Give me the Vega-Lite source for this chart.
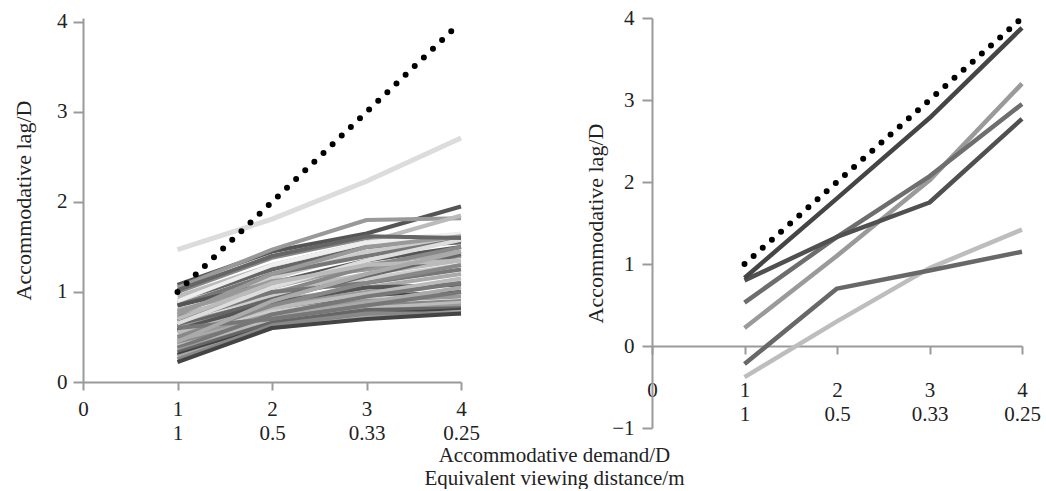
{
  "$schema": "https://vega.github.io/schema/vega-lite/v6.json",
  "background": "white",
  "padding": {"left": 12, "top": 6, "right": 2, "bottom": 0},
  "config": {
    "font": "Liberation Serif",
    "view": {"stroke": null},
    "axis": {
      "grid": false,
      "domainColor": "#9a9a9a",
      "tickColor": "#9a9a9a",
      "domainWidth": 2,
      "tickWidth": 2,
      "labelFont": "Liberation Serif",
      "labelFontSize": 21,
      "labelColor": "#222222",
      "titleFont": "Liberation Serif",
      "titleFontSize": 22,
      "titleFontWeight": "normal",
      "titleColor": "#222222"
    }
  },
  "title": {
    "text": ["Accommodative demand/D", "Equivalent viewing distance/m"],
    "orient": "bottom",
    "anchor": "middle",
    "font": "Liberation Serif",
    "fontSize": 21,
    "fontWeight": "normal",
    "color": "#222222",
    "lineHeight": 23,
    "offset": 2,
    "dx": 28
  },
  "datasets": {
    "leftLines": [
      {"s":"L1","x":1,"y":1.08},{"s":"L1","x":2,"y":1.45},{"s":"L1","x":3,"y":1.65},{"s":"L1","x":4,"y":1.95},
      {"s":"L2","x":1,"y":1.05},{"s":"L2","x":2,"y":1.47},{"s":"L2","x":3,"y":1.80},{"s":"L2","x":4,"y":1.82},
      {"s":"L3","x":1,"y":1.00},{"s":"L3","x":2,"y":1.38},{"s":"L3","x":3,"y":1.60},{"s":"L3","x":4,"y":1.62},
      {"s":"L4","x":1,"y":0.95},{"s":"L4","x":2,"y":1.30},{"s":"L4","x":3,"y":1.55},{"s":"L4","x":4,"y":1.85},
      {"s":"L5","x":1,"y":0.90},{"s":"L5","x":2,"y":1.25},{"s":"L5","x":3,"y":1.50},{"s":"L5","x":4,"y":1.55},
      {"s":"L6","x":1,"y":0.88},{"s":"L6","x":2,"y":1.15},{"s":"L6","x":3,"y":1.45},{"s":"L6","x":4,"y":1.60},
      {"s":"L7","x":1,"y":0.85},{"s":"L7","x":2,"y":1.20},{"s":"L7","x":3,"y":1.40},{"s":"L7","x":4,"y":1.58},
      {"s":"L8","x":1,"y":0.85},{"s":"L8","x":2,"y":1.10},{"s":"L8","x":3,"y":1.35},{"s":"L8","x":4,"y":1.50},
      {"s":"L9","x":1,"y":0.80},{"s":"L9","x":2,"y":1.05},{"s":"L9","x":3,"y":1.30},{"s":"L9","x":4,"y":1.45},
      {"s":"L10","x":1,"y":0.78},{"s":"L10","x":2,"y":1.12},{"s":"L10","x":3,"y":1.25},{"s":"L10","x":4,"y":1.40},
      {"s":"L11","x":1,"y":0.75},{"s":"L11","x":2,"y":1.00},{"s":"L11","x":3,"y":1.20},{"s":"L11","x":4,"y":1.35},
      {"s":"L12","x":1,"y":0.72},{"s":"L12","x":2,"y":0.98},{"s":"L12","x":3,"y":1.28},{"s":"L12","x":4,"y":1.50},
      {"s":"L13","x":1,"y":0.70},{"s":"L13","x":2,"y":0.95},{"s":"L13","x":3,"y":1.15},{"s":"L13","x":4,"y":1.30},
      {"s":"L14","x":1,"y":0.68},{"s":"L14","x":2,"y":1.00},{"s":"L14","x":3,"y":1.10},{"s":"L14","x":4,"y":1.25},
      {"s":"L15","x":1,"y":0.65},{"s":"L15","x":2,"y":0.90},{"s":"L15","x":3,"y":1.05},{"s":"L15","x":4,"y":1.20},
      {"s":"L16","x":1,"y":0.62},{"s":"L16","x":2,"y":0.92},{"s":"L16","x":3,"y":1.18},{"s":"L16","x":4,"y":1.42},
      {"s":"L17","x":1,"y":0.60},{"s":"L17","x":2,"y":0.85},{"s":"L17","x":3,"y":1.00},{"s":"L17","x":4,"y":1.10},
      {"s":"L18","x":1,"y":0.58},{"s":"L18","x":2,"y":0.88},{"s":"L18","x":3,"y":1.05},{"s":"L18","x":4,"y":1.08},
      {"s":"L19","x":1,"y":0.56},{"s":"L19","x":2,"y":0.80},{"s":"L19","x":3,"y":0.95},{"s":"L19","x":4,"y":1.00},
      {"s":"L20","x":1,"y":0.55},{"s":"L20","x":2,"y":0.82},{"s":"L20","x":3,"y":0.98},{"s":"L20","x":4,"y":1.15},
      {"s":"L21","x":1,"y":0.50},{"s":"L21","x":2,"y":0.78},{"s":"L21","x":3,"y":0.92},{"s":"L21","x":4,"y":0.98},
      {"s":"L22","x":1,"y":0.48},{"s":"L22","x":2,"y":0.75},{"s":"L22","x":3,"y":0.90},{"s":"L22","x":4,"y":0.95},
      {"s":"L23","x":1,"y":0.45},{"s":"L23","x":2,"y":0.72},{"s":"L23","x":3,"y":0.88},{"s":"L23","x":4,"y":1.05},
      {"s":"L24","x":1,"y":0.42},{"s":"L24","x":2,"y":0.70},{"s":"L24","x":3,"y":0.85},{"s":"L24","x":4,"y":0.90},
      {"s":"L25","x":1,"y":0.40},{"s":"L25","x":2,"y":0.68},{"s":"L25","x":3,"y":0.82},{"s":"L25","x":4,"y":0.88},
      {"s":"L26","x":1,"y":0.38},{"s":"L26","x":2,"y":0.75},{"s":"L26","x":3,"y":0.95},{"s":"L26","x":4,"y":1.10},
      {"s":"L27","x":1,"y":0.35},{"s":"L27","x":2,"y":0.65},{"s":"L27","x":3,"y":0.78},{"s":"L27","x":4,"y":0.85},
      {"s":"L28","x":1,"y":0.33},{"s":"L28","x":2,"y":0.66},{"s":"L28","x":3,"y":0.80},{"s":"L28","x":4,"y":0.82},
      {"s":"L29","x":1,"y":0.30},{"s":"L29","x":2,"y":0.62},{"s":"L29","x":3,"y":0.75},{"s":"L29","x":4,"y":0.80},
      {"s":"L30","x":1,"y":0.28},{"s":"L30","x":2,"y":0.60},{"s":"L30","x":3,"y":0.72},{"s":"L30","x":4,"y":0.78},
      {"s":"L31","x":1,"y":0.25},{"s":"L31","x":2,"y":0.63},{"s":"L31","x":3,"y":0.76},{"s":"L31","x":4,"y":0.76},
      {"s":"L32","x":1,"y":0.22},{"s":"L32","x":2,"y":0.60},{"s":"L32","x":3,"y":0.70},{"s":"L32","x":4,"y":0.76},
      {"s":"L33","x":1,"y":0.90},{"s":"L33","x":2,"y":1.30},{"s":"L33","x":3,"y":1.55},{"s":"L33","x":4,"y":1.65},
      {"s":"L34","x":1,"y":0.65},{"s":"L34","x":2,"y":1.05},{"s":"L34","x":3,"y":1.35},{"s":"L34","x":4,"y":1.58},
      {"s":"L35","x":1,"y":0.75},{"s":"L35","x":2,"y":1.20},{"s":"L35","x":3,"y":1.50},{"s":"L35","x":4,"y":1.62},
      {"s":"L36","x":1,"y":1.02},{"s":"L36","x":2,"y":1.40},{"s":"L36","x":3,"y":1.62},{"s":"L36","x":4,"y":1.60},
      {"s":"L37","x":1,"y":0.70},{"s":"L37","x":2,"y":1.10},{"s":"L37","x":3,"y":1.30},{"s":"L37","x":4,"y":1.35},
      {"s":"L38","x":1,"y":0.50},{"s":"L38","x":2,"y":0.85},{"s":"L38","x":3,"y":1.10},{"s":"L38","x":4,"y":1.30},
      {"s":"L39","x":1,"y":0.60},{"s":"L39","x":2,"y":0.70},{"s":"L39","x":3,"y":0.85},{"s":"L39","x":4,"y":1.00},
      {"s":"L40","x":1,"y":0.45},{"s":"L40","x":2,"y":0.90},{"s":"L40","x":3,"y":1.20},{"s":"L40","x":4,"y":1.45}
    ],
    "leftTop": [
      {"x":1,"y":1.47},{"x":2,"y":1.81},{"x":3,"y":2.23},{"x":4,"y":2.71}
    ],
    "leftRef": [
      {"x":1,"y":1},{"x":2,"y":2},{"x":3,"y":3},{"x":3.9,"y":3.9}
    ],
    "rightLines": [
      {"s":"G","x":1,"y":-0.38},{"s":"G","x":2,"y":0.30},{"s":"G","x":3,"y":0.95},{"s":"G","x":4,"y":1.42},
      {"s":"F","x":1,"y":-0.22},{"s":"F","x":2,"y":0.70},{"s":"F","x":3,"y":0.92},{"s":"F","x":4,"y":1.15},
      {"s":"E","x":1,"y":0.22},{"s":"E","x":2,"y":1.10},{"s":"E","x":3,"y":2.02},{"s":"E","x":4,"y":3.20},
      {"s":"D","x":1,"y":0.53},{"s":"D","x":2,"y":1.33},{"s":"D","x":3,"y":2.07},{"s":"D","x":4,"y":2.95},
      {"s":"B","x":1,"y":0.80},{"s":"B","x":2,"y":1.33},{"s":"B","x":3,"y":1.75},{"s":"B","x":4,"y":2.77},
      {"s":"A","x":1,"y":0.83},{"s":"A","x":2,"y":1.80},{"s":"A","x":3,"y":2.78},{"s":"A","x":4,"y":3.88}
    ],
    "rightRef": [
      {"x":1,"y":1},{"x":2,"y":2},{"x":3,"y":3},{"x":4,"y":4}
    ]
  },
  "spacing": 104,
  "resolve": {"scale": {"color": "independent", "x": "independent", "y": "independent"}},
  "hconcat": [
    {
      "width": 378,
      "height": 364,
      "layer": [
        {
          "data": {"name": "leftLines"},
          "mark": {"type": "line", "strokeWidth": 4, "strokeJoin": "round"},
          "encoding": {
            "x": {
              "field": "x", "type": "quantitative",
              "scale": {"domain": [0, 4], "nice": false, "zero": false},
              "axis": {
                "values": [0, 1, 2, 3, 4],
                "title": null,
                "tickSize": 8,
                "labelPadding": 8,
                "labelFlush": false,
                "labelOverlap": false,
                "labelBaseline": "top",
                "labelLineHeight": 24,
                "labelExpr": "datum.value == 1 ? ['1', '1'] : datum.value == 2 ? ['2', '0.5'] : datum.value == 3 ? ['3', '0.33'] : datum.value == 4 ? ['4', '0.25'] : '0'"
              }
            },
            "y": {
              "field": "y", "type": "quantitative",
              "scale": {"domain": [0, 4.0444], "nice": false},
              "axis": {
                "values": [0, 0.5, 1, 1.5, 2, 2.5, 3, 3.5, 4],
                "format": "d",
                "title": "Accommodative lag/D",
                "tickSize": 10,
                "labelPadding": 6,
                "titlePadding": 21,
                "labelExpr": "datum.value % 1 == 0 ? datum.label : ''"
              }
            },
            "color": {
              "field": "s", "type": "nominal", "legend": null,
              "scale": {
                "domain": ["L1","L2","L3","L4","L5","L6","L7","L8","L9","L10","L11","L12","L13","L14","L15","L16","L17","L18","L19","L20","L21","L22","L23","L24","L25","L26","L27","L28","L29","L30","L31","L32","L33","L34","L35","L36","L37","L38","L39","L40"],
                "range": ["#555555","#999999","#888888","#bbbbbb","#666666","#cccccc","#777777","#555555","#aaaaaa","#999999","#bbbbbb","#888888","#cccccc","#777777","#aaaaaa","#666666","#999999","#555555","#444444","#bbbbbb","#cccccc","#999999","#aaaaaa","#888888","#bbbbbb","#777777","#999999","#666666","#444444","#aaaaaa","#888888","#444444","#eeeeee","#dddddd","#999999","#666666","#bbbbbb","#888888","#777777","#aaaaaa"]
              }
            }
          }
        },
        {
          "data": {"name": "leftTop"},
          "mark": {"type": "line", "strokeWidth": 5, "color": "#dcdcdc"},
          "encoding": {
            "x": {"field": "x", "type": "quantitative"},
            "y": {"field": "y", "type": "quantitative"}
          }
        },
        {
          "data": {"name": "leftRef"},
          "mark": {"type": "line", "strokeWidth": 6, "strokeDash": [0, 12.6], "strokeCap": "round", "color": "#000000"},
          "encoding": {
            "x": {"field": "x", "type": "quantitative"},
            "y": {"field": "y", "type": "quantitative"}
          }
        }
      ]
    },
    {
      "width": 370,
      "height": 410,
      "layer": [
        {
          "data": {"name": "rightLines"},
          "mark": {"type": "line", "strokeWidth": 4.5, "strokeJoin": "round"},
          "encoding": {
            "x": {
              "field": "x", "type": "quantitative",
              "scale": {"domain": [0, 4], "nice": false, "zero": false},
              "axis": {
                "values": [0, 1, 2, 3, 4],
                "title": null,
                "offset": -82,
                "tickSize": 8,
                "labelPadding": 25,
                "labelFlush": false,
                "labelOverlap": false,
                "labelBaseline": "top",
                "labelLineHeight": 24,
                "labelExpr": "datum.value == 1 ? ['1', '1'] : datum.value == 2 ? ['2', '0.5'] : datum.value == 3 ? ['3', '0.33'] : datum.value == 4 ? ['4', '0.25'] : '0'"
              }
            },
            "y": {
              "field": "y", "type": "quantitative",
              "scale": {"domain": [-1, 4], "nice": false},
              "axis": {
                "values": [-1, -0.5, 0, 0.5, 1, 1.5, 2, 2.5, 3, 3.5, 4],
                "format": "d",
                "title": "Accommodative lag/D",
                "tickSize": 10,
                "labelPadding": 8,
                "titlePadding": 4,
                "labelExpr": "datum.value % 1 == 0 ? datum.label : ''"
              }
            },
            "color": {
              "field": "s", "type": "nominal", "legend": null,
              "scale": {
                "domain": ["G","F","E","D","B","A"],
                "range": ["#bdbdbd","#686868","#9a9a9a","#6e6e6e","#505050","#454545"]
              }
            }
          }
        },
        {
          "data": {"name": "rightRef"},
          "mark": {"type": "line", "strokeWidth": 6, "strokeDash": [0, 12.2], "strokeCap": "round", "color": "#000000"},
          "encoding": {
            "x": {"field": "x", "type": "quantitative"},
            "y": {"field": "y", "type": "quantitative"}
          }
        }
      ]
    }
  ]
}
